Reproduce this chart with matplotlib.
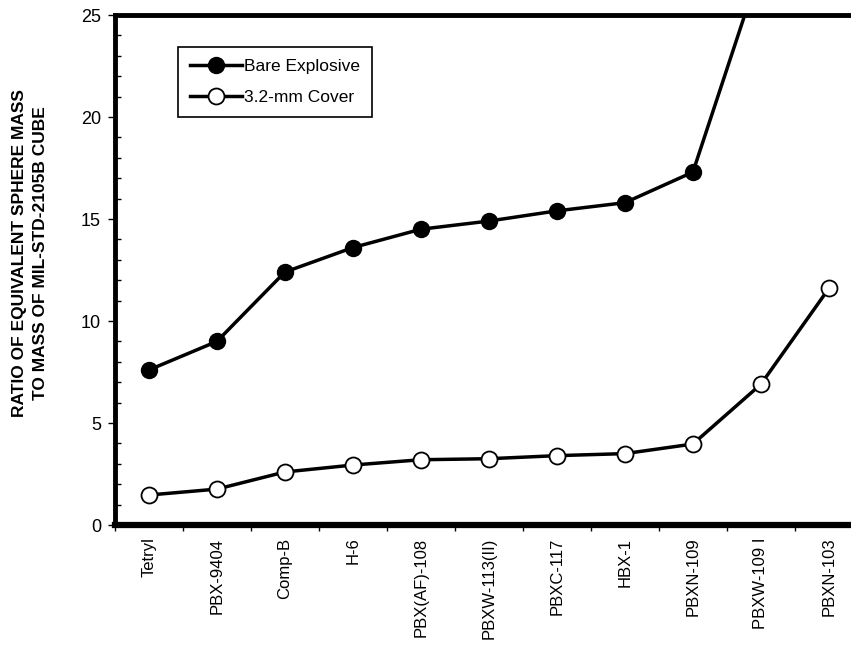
import matplotlib
matplotlib.use('Agg')
import matplotlib.pyplot as plt
from matplotlib.ticker import MultipleLocator, FixedLocator

# values
explosives = ['Tetryl', 'PBX-9404', 'Comp-B', 'H-6', 'PBX(AF)-108', 'PBXW-113(II)',
              'PBXC-117', 'HBX-1', 'PBXN-109', 'PBXW-109 I', 'PBXN-103']
bare = [7.6, 9.0, 12.4, 13.6, 14.5, 14.9, 15.4, 15.8, 17.3, 27.4, None]
cover = [1.47, 1.76, 2.6, 2.94, 3.2, 3.25, 3.4, 3.5, 3.97, 6.9, 11.6]

plt.rcParams['font.family'] = ['Liberation Sans', 'DejaVu Sans']

fig = plt.figure(figsize=(8.51, 6.53), dpi=100)
ax = fig.add_axes([0.135, 0.196, 0.879, 0.781])

x = list(range(len(explosives)))
xb = [i for i, v in zip(x, bare) if v is not None]
yb = [v for v in bare if v is not None]

ax.plot(xb, yb, '-o', color='black', lw=2.5, markersize=11.5,
        markerfacecolor='black', label='Bare Explosive')
ax.plot(x, cover, '-o', color='black', lw=2.5, markersize=11.5,
        markerfacecolor='white', markeredgewidth=1.3, label='3.2-mm Cover')

ax.set_xlim(-0.5, len(explosives) - 0.5)
ax.set_ylim(0, 25)

# y axis
ax.yaxis.set_major_locator(MultipleLocator(5))
ax.yaxis.set_minor_locator(MultipleLocator(1))
ax.tick_params(axis='y', which='major', direction='out', length=5, width=1, labelsize=13, pad=5)
ax.tick_params(axis='y', which='minor', direction='in', length=4, width=1)

# x axis: ticks at boundaries, labels at centers
ax.xaxis.set_major_locator(FixedLocator([i - 0.5 for i in range(len(explosives) + 1)]))
ax.xaxis.set_minor_locator(FixedLocator(x))
ax.set_xticklabels([])
ax.set_xticklabels(explosives, minor=True, rotation=90, fontsize=12)
ax.tick_params(axis='x', which='major', direction='out', length=4, width=1)
ax.tick_params(axis='x', which='minor', length=0, pad=9)

ax.spines['right'].set_visible(False)
ax.spines['left'].set_linewidth(3.5)
ax.spines['top'].set_linewidth(3.5)
ax.spines['bottom'].set_linewidth(4.5)

fig.text(30 / 851, 1 - 253 / 653,
         'RATIO OF EQUIVALENT SPHERE MASS\nTO MASS OF MIL-STD-2105B CUBE',
         rotation=90, ha='center', va='center', multialignment='center',
         fontsize=12.5, fontweight='bold', linespacing=1.5)

leg = ax.legend(loc='upper left', bbox_to_anchor=(0.084, 0.937), borderaxespad=0,
                fontsize=12.5, handlelength=3.0, handletextpad=0.1, fancybox=False,
                framealpha=1, edgecolor='black', borderpad=0.7, labelspacing=0.9)
leg.get_frame().set_linewidth(1.2)

fig.savefig('out.png', dpi=100)
